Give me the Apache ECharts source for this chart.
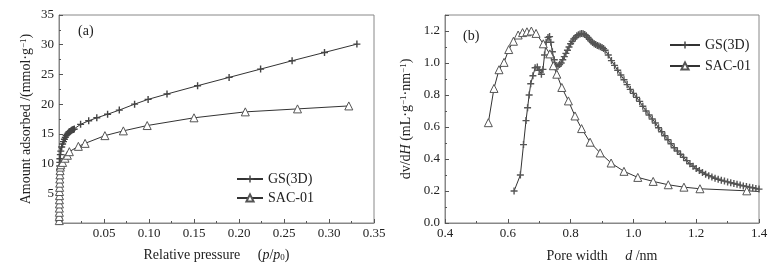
<!DOCTYPE html>
<html>
<head>
<meta charset="utf-8">
<script src="https://cdn.jsdelivr.net/npm/echarts@6/dist/echarts.min.js"></script>
<style>
html,body{margin:0;padding:0;background:#fff;}
#main{width:782px;height:266px;}
</style>
</head>
<body>
<div id="main"></div>
<script>
// (a) adsorption isotherms
var gsAx = [0.0002,0.0002,0.0003,0.0003,0.0003,0.0004,0.0004,0.0004,0.0005,0.0005,0.0005,0.0006,0.0006,0.0007,0.0008,0.0009,
    0.001,0.0015,0.002,0.003,0.004,0.005,0.006,0.007,0.008,0.009,0.010,0.011,0.012,0.013,0.014,0.015,0.016,0.017,
    0.024,0.033,0.042,0.054,0.067,0.084,0.099,0.12,0.154,0.189,0.224,0.259,0.295,0.331];
var gsAy = [0.3,0.8,1.4,2.0,2.7,3.4,4.1,4.8,5.5,6.2,6.9,7.6,8.3,9.0,9.6,10.2,
    10.8,11.5,12.1,12.8,13.3,13.7,14.1,14.4,14.7,14.9,15.1,15.3,15.4,15.5,15.6,15.7,15.75,15.8,
    16.6,17.2,17.7,18.3,19.0,20.0,20.8,21.7,23.1,24.5,25.9,27.3,28.7,30.1];
var sacAx = [0.0003,0.0003,0.0004,0.0004,0.0005,0.0005,0.0006,0.0006,0.0007,0.0008,0.0009,0.001,0.0012,0.0015,
    0.002,0.004,0.0067,0.0093,0.0115,0.0215,0.029,0.051,0.0715,0.098,0.150,0.207,0.265,0.322];
var sacAy = [0.4,1.1,1.8,2.5,3.2,3.9,4.6,5.3,6.0,6.7,7.4,8.1,8.8,9.4,
    9.8,10.2,10.9,11.4,12.0,12.9,13.4,14.7,15.5,16.4,17.7,18.7,19.2,19.7];

// (b) pore size distribution
var gsBx = [0.62,0.64,0.65,0.658,0.663,0.668,0.673,0.68,0.687,0.694,0.70,0.707,0.712,0.717,0.722,0.728,0.733,0.737,0.742,0.748,0.754,
    0.76,0.765,0.77,0.775,0.78,0.785,0.79,0.795,0.80,0.805,0.81,0.815,0.82,0.825,0.83,0.835,0.84,0.845,0.85,0.855,0.86,0.865,0.87,0.875,0.88,0.885,0.89,0.895,0.90,0.905,0.91,
    0.92,0.93,0.94,0.95,0.96,0.97,0.98,0.99,1.00,1.01,1.02,1.03,1.04,1.05,1.06,1.07,1.08,1.09,1.10,1.11,1.12,1.13,1.14,1.15,1.16,1.17,1.18,1.19,1.20,
    1.21,1.22,1.23,1.24,1.25,1.26,1.27,1.28,1.29,1.30,1.31,1.32,1.33,1.34,1.35,1.36,1.37,1.38,1.39,1.40];
var gsBy = [0.20,0.30,0.49,0.64,0.72,0.80,0.87,0.92,0.97,0.975,0.955,0.93,0.96,1.05,1.13,1.16,1.165,1.13,1.07,1.02,0.985,
    0.98,0.99,1.00,1.02,1.04,1.06,1.08,1.10,1.12,1.135,1.15,1.16,1.17,1.177,1.181,1.184,1.183,1.178,1.17,1.16,1.148,1.137,1.128,1.12,1.115,1.11,1.106,1.102,1.097,1.09,1.08,
    1.05,1.015,0.985,0.955,0.925,0.895,0.865,0.835,0.81,0.785,0.76,0.73,0.70,0.675,0.65,0.625,0.595,0.57,0.545,0.52,0.495,0.47,0.45,0.43,0.41,0.39,0.37,0.355,0.34,
    0.328,0.316,0.305,0.296,0.288,0.28,0.273,0.267,0.262,0.257,0.252,0.247,0.242,0.237,0.232,0.228,0.224,0.22,0.216,0.212];
var sacBx = [0.538,0.556,0.572,0.588,0.603,0.618,0.633,0.647,0.661,0.675,0.69,0.713,0.734,0.745,0.756,0.772,0.793,0.814,0.835,
    0.862,0.894,0.929,0.97,1.014,1.063,1.111,1.161,1.212,1.361];
var sacBy = [0.627,0.841,0.958,1.004,1.084,1.136,1.175,1.19,1.195,1.2,1.185,1.12,1.057,0.983,0.93,0.847,0.763,0.669,0.59,
    0.505,0.438,0.375,0.323,0.285,0.26,0.239,0.224,0.214,0.201];
var sacBend = [1.40, 0.197];

var FONT = '"Liberation Serif", "Times New Roman", serif';
var TXT = '#222';
var AX = '#888';
var PLUS = 'path://M4,0h2v4h4v2h-4v4h-2v-4h-4v-2h4z';

function pairs(xs, ys) {
    var out = [];
    for (var i = 0; i < xs.length; i++) out.push([xs[i], ys[i]]);
    return out;
}

var richText = {
    i: {fontFamily: FONT, fontSize: 14, fontStyle: 'italic', color: TXT},
    sub: {fontFamily: FONT, fontSize: 9, color: TXT, verticalAlign: 'bottom'},
    sup: {fontFamily: FONT, fontSize: 9, color: TXT, verticalAlign: 'top'}
};

function xAxisOf(idx, min, max, step, digits, showMin, name, gap) {
    return {
        type: 'value', gridIndex: idx, min: min, max: max, interval: step,
        axisLine: {lineStyle: {color: AX}},
        axisTick: {inside: true, length: 4, lineStyle: {color: '#555'}},
        minorTick: {show: true, splitNumber: 2, length: 2, lineStyle: {color: '#555'}},
        splitLine: {show: false},
        axisLabel: {
            fontFamily: FONT, fontSize: 13, color: TXT, margin: 4, showMinLabel: showMin,
            formatter: function (v) { return v.toFixed(digits); }
        },
        name: name, nameLocation: 'middle', nameGap: gap,
        nameTextStyle: {fontFamily: FONT, fontSize: 14, color: TXT, rich: richText}
    };
}

function yAxisOf(idx, min, max, step, digits, name, gap, hideTop) {
    return {
        type: 'value', gridIndex: idx, min: min, max: max, interval: step,
        axisLine: {show: true, lineStyle: {color: AX}},
        axisTick: {show: true, inside: true, length: 4, lineStyle: {color: '#555'}},
        minorTick: {show: true, splitNumber: 2, length: 2, lineStyle: {color: '#555'}},
        splitLine: {show: false},
        axisLabel: {
            fontFamily: FONT, fontSize: 13, color: TXT, margin: 5,
            showMinLabel: digits > 0, showMaxLabel: !hideTop,
            formatter: function (v) { return v.toFixed(digits); }
        },
        name: name, nameLocation: 'middle', nameGap: gap,
        nameTextStyle: {fontFamily: FONT, fontSize: 14, color: TXT, rich: richText}
    };
}

var chart = echarts.init(document.getElementById('main'), null, {renderer: 'canvas'});

var option = {
    animation: false,
    backgroundColor: '#fff',
    title: [
        {text: '(a)', left: 73, top: 19, textStyle: {fontFamily: FONT, fontSize: 14, fontWeight: 'normal', color: TXT}},
        {text: '(b)', left: 458, top: 24, textStyle: {fontFamily: FONT, fontSize: 14, fontWeight: 'normal', color: TXT}}
    ],
    grid: [
        {left: 59, top: 15, width: 315, height: 208, show: true, borderColor: AX, borderWidth: 1, outerBoundsMode: 'none'},
        {left: 445, top: 15, width: 314, height: 208, show: true, borderColor: AX, borderWidth: 1, outerBoundsMode: 'none'}
    ],
    legend: [
        {
            data: ['GS(3D)', 'SAC-01'], orient: 'vertical', left: 231, top: 167,
            itemWidth: 26, itemHeight: 9, itemGap: 5,
            textStyle: {fontFamily: FONT, fontSize: 14, color: TXT}
        },
        {
            data: ['GS(3D)', 'SAC-01'], orient: 'vertical', left: 664, top: 33,
            itemWidth: 30, itemHeight: 9, itemGap: 7,
            textStyle: {fontFamily: FONT, fontSize: 14, color: TXT}
        }
    ],
    xAxis: [
        xAxisOf(0, 0, 0.35, 0.05, 2, false, 'Relative pressure     ({i|p}/{i|p}{sub|0})', 25),
        xAxisOf(1, 0.4, 1.4, 0.2, 1, true, 'Pore width     {i|d} /nm', 26)
    ],
    yAxis: [
        yAxisOf(0, 0, 35, 5, 0, 'Amount adsorbed /(mmol·g{sup|−1})', 26, false),
        yAxisOf(1, 0, 1.3, 0.2, 1, 'dv/d{i|H} (mL·g{sup|−1}·nm{sup|−1})', 32, true)
    ],
    series: [
        {
            name: 'GS(3D)', type: 'line', xAxisIndex: 0, yAxisIndex: 0,
            data: pairs(gsAx, gsAy),
            symbol: PLUS, symbolSize: 7, showAllSymbol: true,
            lineStyle: {color: '#333', width: 1},
            itemStyle: {color: '#444'}
        },
        {
            name: 'SAC-01', type: 'line', xAxisIndex: 0, yAxisIndex: 0,
            data: pairs(sacAx, sacAy),
            symbol: 'triangle', symbolSize: 8, showAllSymbol: true,
            lineStyle: {color: '#333', width: 1},
            itemStyle: {color: '#fff', borderColor: '#555', borderWidth: 1}
        },
        {
            name: 'GS(3D)', type: 'line', xAxisIndex: 1, yAxisIndex: 1,
            data: pairs(gsBx, gsBy),
            symbol: PLUS, symbolSize: 7, showAllSymbol: true,
            lineStyle: {color: '#333', width: 1},
            itemStyle: {color: '#555'}
        },
        {
            name: 'SAC-01', type: 'line', xAxisIndex: 1, yAxisIndex: 1,
            data: pairs(sacBx, sacBy).concat([{value: sacBend, symbol: 'none'}]),
            symbol: 'triangle', symbolSize: 8, showAllSymbol: true,
            lineStyle: {color: '#333', width: 1},
            itemStyle: {color: '#fff', borderColor: '#555', borderWidth: 1}
        }
    ]
};
chart.setOption(option);
</script>
</body>
</html>
